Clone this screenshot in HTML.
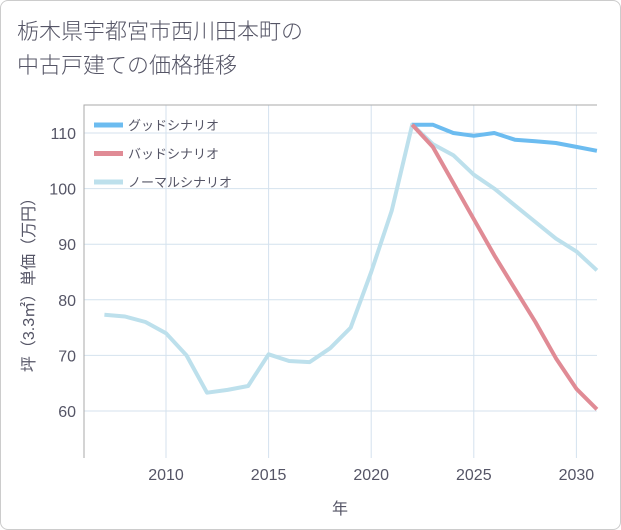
<!DOCTYPE html>
<html><head><meta charset="utf-8"><style>
body{margin:0;background:#fff;}
#wrap{position:relative;width:619px;height:528px;border:1px solid #ccc;border-radius:8px;overflow:hidden;font-family:"Liberation Sans","Noto Sans CJK JP",sans-serif;}
#title{position:absolute;left:16px;top:14px;font-size:22px;line-height:34px;color:#556;font-weight:300;}
svg text{font-family:"Liberation Sans","Noto Sans CJK JP",sans-serif;}
</style></head><body>
<div id="wrap">
<div id="title">栃木県宇都宮市西川田本町の<br>中古戸建ての価格推移</div>
<svg id="c" width="621" height="530" style="position:absolute;left:-1px;top:-1px"></svg>
</div>
<script>
const years=[2007,2008,2009,2010,2011,2012,2013,2014,2015,2016,2017,2018,2019,2020,2021,2022,2023,2024,2025,2026,2027,2028,2029,2030,2031];
const normalVals=[77.3,77,76,74,70,63.3,63.8,64.5,70.2,69,68.8,71.3,75,85,96,111.5,108,106,102.5,100,97,94,91,88.7,85.3];
const goodYears=[2022,2023,2024,2025,2026,2027,2028,2029,2030,2031];
const goodVals=[111.5,111.5,110,109.5,110,108.8,108.5,108.2,107.5,106.8];
const badVals=[111.5,107.5,101,94.5,88,82,76,69.5,64,60.3];
const xTicks=[2010,2015,2020,2025,2030];
const yTicks=[60,70,80,90,100,110];
const NS="http://www.w3.org/2000/svg";
const svg=document.getElementById('c');
const L=84,R=597,T=105,B=458;
const x=v=>166+(v-2010)*20.52;
const y=v=>411-(v-60)*5.56;
function mk(t,a){const e=document.createElementNS(NS,t);for(const k in a)e.setAttribute(k,a[k]);svg.appendChild(e);return e;}
mk('rect',{x:L,y:T,width:R-L,height:B-T,fill:'#fff'});
xTicks.forEach(t=>{const e=mk('line',{x1:x(t),x2:x(t),y1:T,y2:B,stroke:'#d4e2ee','stroke-width':1});


const tx=mk('text',{x:x(t),y:480,'text-anchor':'middle','font-size':16,fill:'#556'});tx.textContent=t;

});
yTicks.forEach(t=>{const e=mk('line',{x1:L,x2:R,y1:y(t),y2:y(t),stroke:'#d4e2ee','stroke-width':1});


const tx=mk('text',{x:76,y:y(t)+6,'text-anchor':'end','font-size':16,fill:'#556'});tx.textContent=t;

});
mk('path',{d:`M${L},${B} V${T} H${R}`,fill:'none',stroke:'#aaa','stroke-width':1});
function series(xs,vs,color,name){const d=xs.map((v,i)=>(i?'L':'M')+x(v).toFixed(1)+','+y(vs[i]).toFixed(1)).join(' ');
const p=mk('path',{d,fill:'none',stroke:color,'stroke-width':4,'stroke-linejoin':'round'});

}
series(years,normalVals,'#bde0ec','normal-scenario-line');
series(goodYears,goodVals,'#6cbcf0','good-scenario-line');
series(goodYears,badVals,'#e08b95','bad-scenario-line');
const leg=[['グッドシナリオ','#6cbcf0'],['バッドシナリオ','#e08b95'],['ノーマルシナリオ','#bde0ec']];
leg.forEach((l,i)=>{const yy=125+i*28.5;
const ln=mk('line',{x1:94,x2:123,y1:yy,y2:yy,stroke:l[1],'stroke-width':5});


const t=mk('text',{x:128,y:yy+5,'font-size':13,fill:'#556'});t.textContent=l[0];

});
const yl=mk('text',{transform:'translate(34,281) rotate(-90)','text-anchor':'middle','font-size':16,fill:'#556'});yl.textContent='坪（3.3㎡）単価（万円）';


const xl=mk('text',{x:340,y:514,'text-anchor':'middle','font-size':16,fill:'#556'});xl.textContent='年';


</script>
</body></html>
